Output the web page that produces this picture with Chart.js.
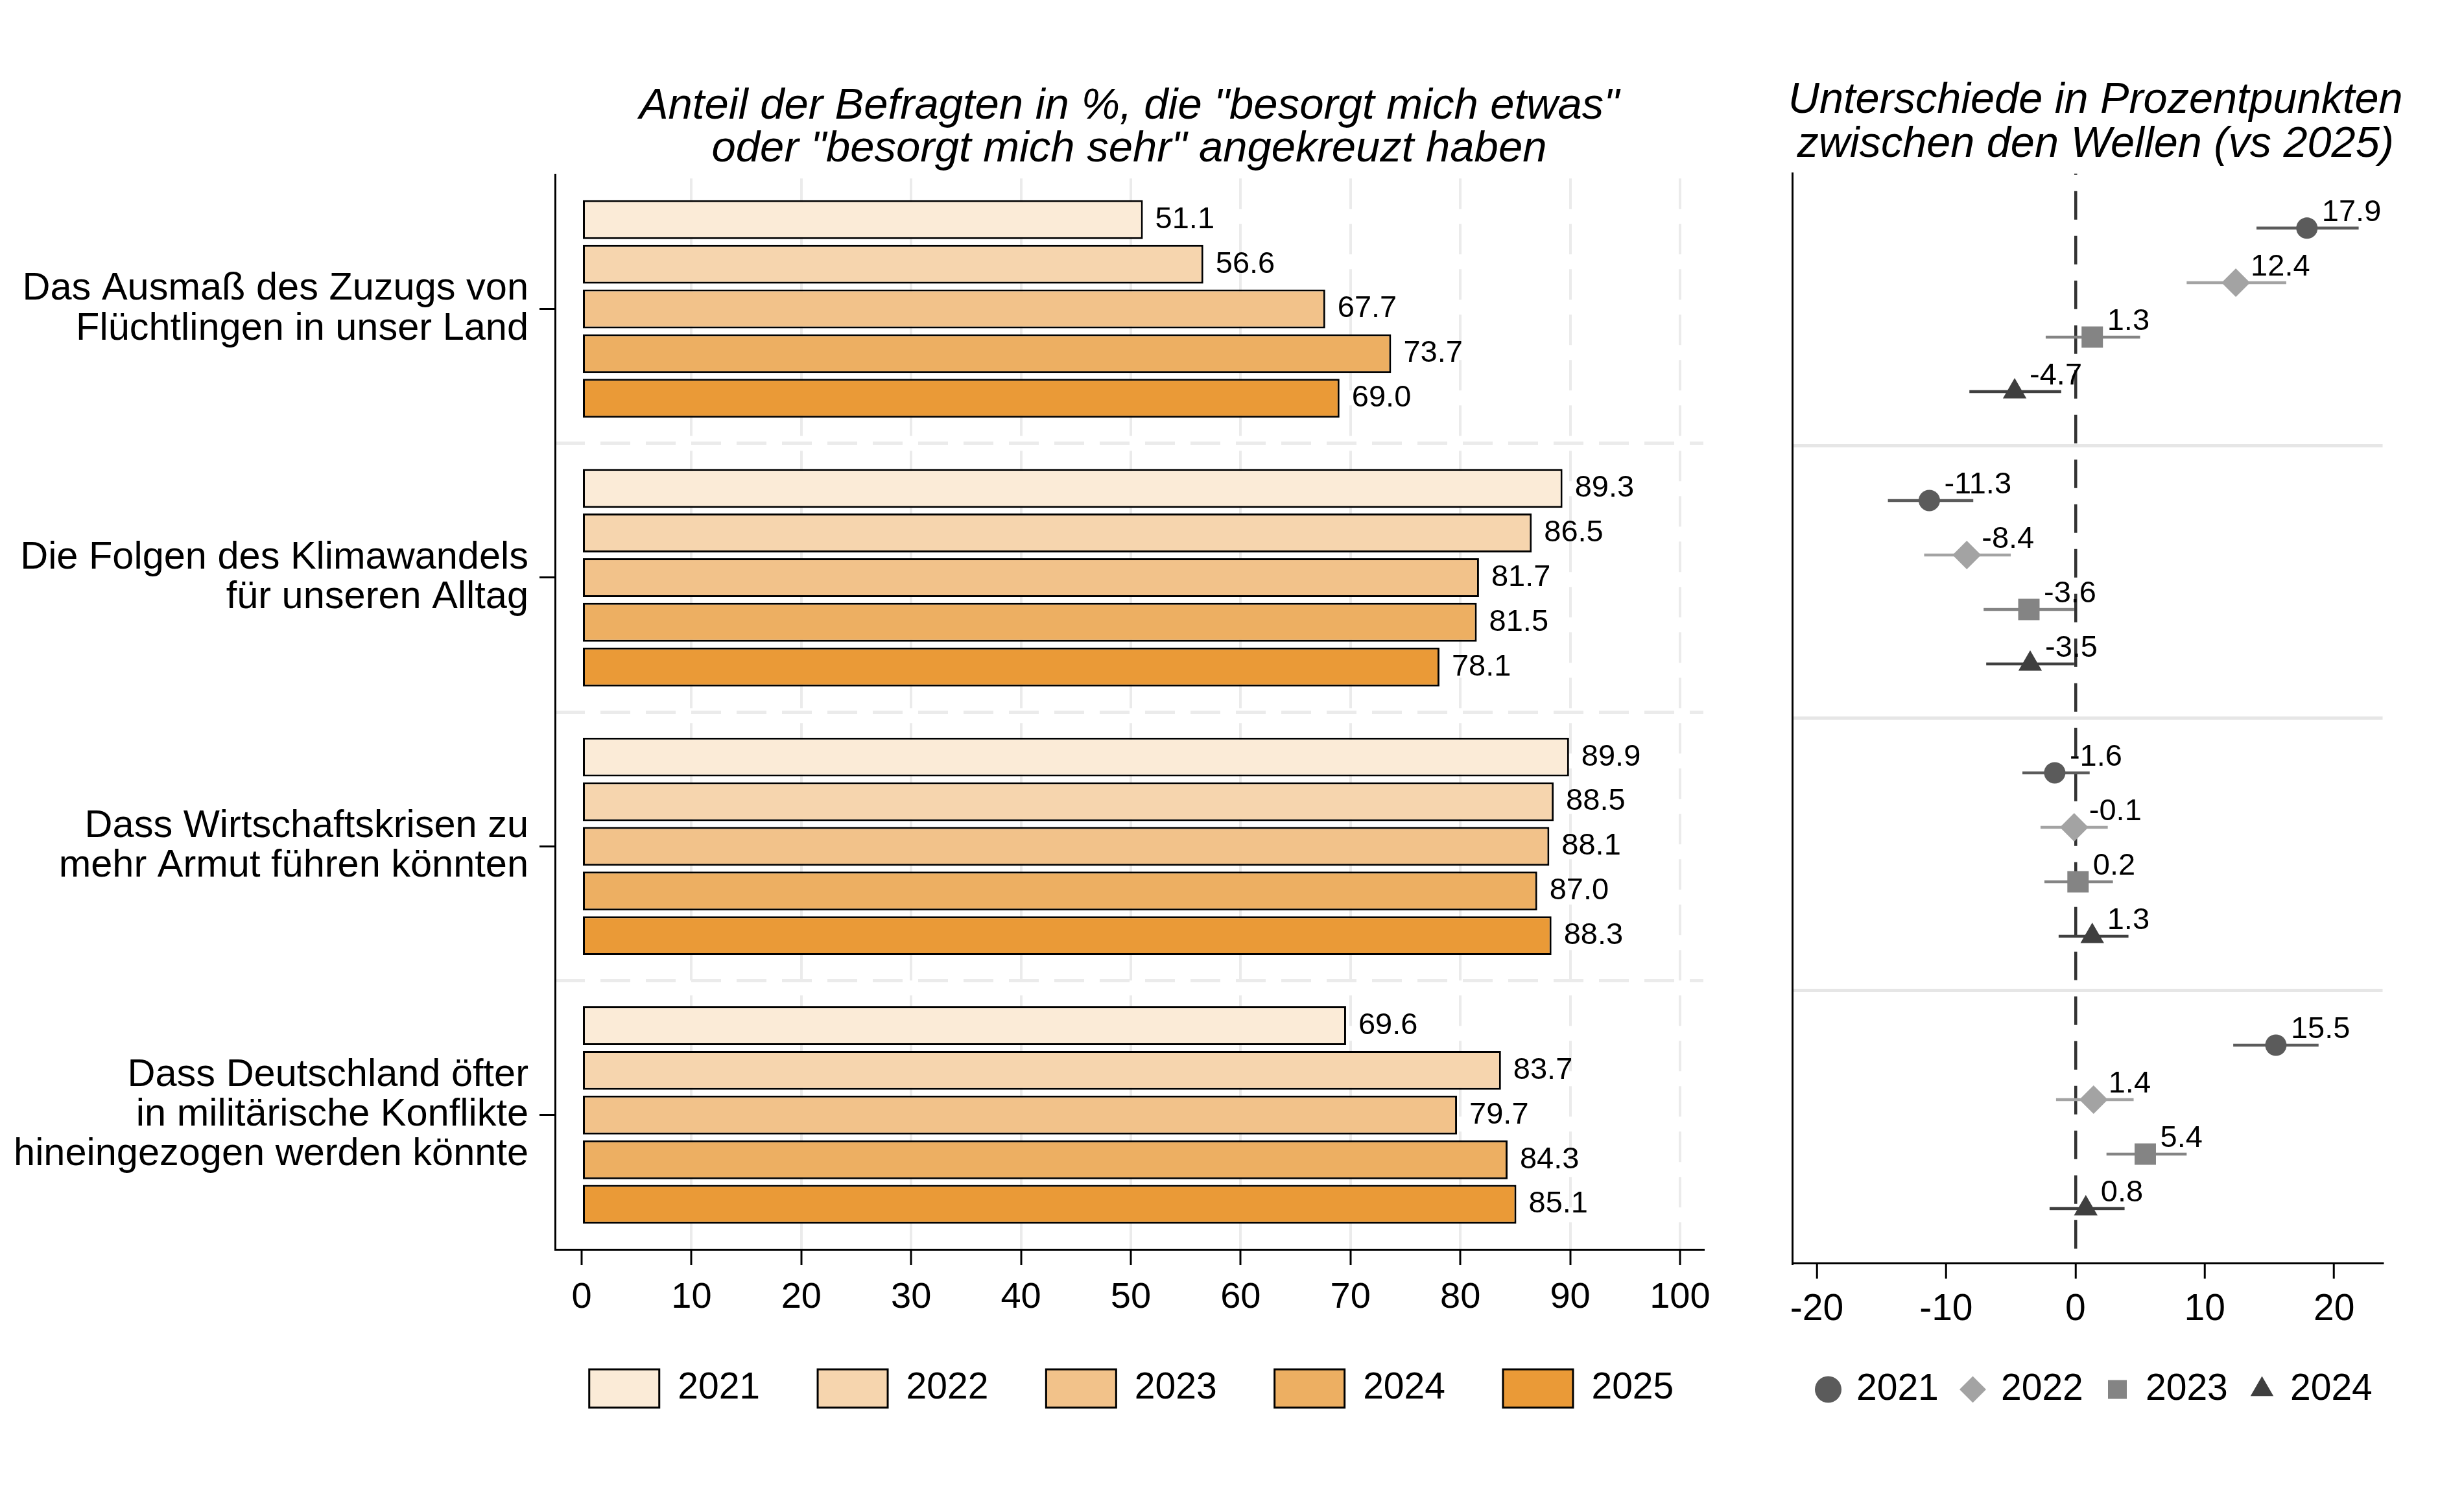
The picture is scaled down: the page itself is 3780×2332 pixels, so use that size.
<!DOCTYPE html>
<html>
<head>
<meta charset="utf-8">
<script src="https://cdn.jsdelivr.net/npm/chart.js@4.4.1/dist/chart.umd.min.js"></script>
<style>
  html, body { margin: 0; padding: 0; background: #fff; }
  #wrap { position: relative; width: 3780px; height: 2332px; overflow: hidden; }
  #left { position: absolute; left: 0; top: 0; }
  #right { position: absolute; left: 2700px; top: 0; }
</style>
</head>
<body>
<div id="wrap">
  <canvas id="left" width="3490" height="2332"></canvas>
  <canvas id="right" width="1080" height="2332"></canvas>
</div>
<script>
// categories (multi-line labels)
const categories = [
  ['Das Ausmaß des Zuzugs von', 'Flüchtlingen in unser Land'],
  ['Die Folgen des Klimawandels', 'für unseren Alltag'],
  ['Dass Wirtschaftskrisen zu', 'mehr Armut führen könnten'],
  ['Dass Deutschland öfter', 'in militärische Konflikte', 'hineingezogen werden könnte']
];

// left panel: share in %
const years = ['2021', '2022', '2023', '2024', '2025'];
const share2021 = [51.1, 89.3, 89.9, 69.6];
const share2022 = [56.6, 86.5, 88.5, 83.7];
const share2023 = [67.7, 81.7, 88.1, 79.7];
const share2024 = [73.7, 81.5, 87.0, 84.3];
const share2025 = [69.0, 78.1, 88.3, 85.1];
const shareTicks = [0, 10, 20, 30, 40, 50, 60, 70, 80, 90, 100];

// right panel: difference vs 2025 in percentage points, with CI
const diffYears = ['2021', '2022', '2023', '2024'];
const diff2021 = [17.9, -11.3, -1.6, 15.5];
const diff2022 = [12.4, -8.4, -0.1, 1.4];
const diff2023 = [1.3, -3.6, 0.2, 5.4];
const diff2024 = [-4.7, -3.5, 1.3, 0.8];
const ciLow2021 = [14.0, -14.5, -4.1, 12.2];
const ciHigh2021 = [21.9, -7.9, 1.1, 18.8];
const ciLow2022 = [8.6, -11.7, -2.7, -1.5];
const ciHigh2022 = [16.3, -5.0, 2.5, 4.5];
const ciLow2023 = [-2.3, -7.1, -2.4, 2.4];
const ciHigh2023 = [5.0, -0.1, 2.9, 8.6];
const ciLow2024 = [-8.2, -6.9, -1.3, -2.0];
const ciHigh2024 = [-1.1, -0.1, 4.1, 3.8];
const diffTicks = [-20, -10, 0, 10, 20];

const FONT = '"Liberation Sans", Arial, Helvetica, sans-serif';
Chart.defaults.font.family = FONT;
Chart.defaults.color = '#000';

const barColors = ['#FBEBD7', '#F6D5AE', '#F2C28A', '#EDAF62', '#EA9A37'];
const shares = [share2021, share2022, share2023, share2024, share2025];

const barValueLabels = {
  id: 'barValueLabels',
  afterDatasetsDraw(chart) {
    const ctx = chart.ctx;
    ctx.save();
    ctx.font = '47px ' + FONT;
    ctx.fillStyle = '#000';
    ctx.textAlign = 'left';
    ctx.textBaseline = 'middle';
    chart.data.datasets.forEach((ds, i) => {
      chart.getDatasetMeta(i).data.forEach((bar, j) => {
        ctx.fillText(ds.data[j].toFixed(1), bar.x + 19, bar.y);
      });
    });
    ctx.restore();
  }
};

// the canvas is wider than the plot so that the full-width legend is centred under the bars;
// the invisible right axis (ySep) takes up that extra room and draws the group separators
new Chart(document.getElementById('left'), {
  type: 'bar',
  data: {
    labels: categories,
    datasets: shares.map((d, i) => ({
      label: years[i],
      data: d,
      backgroundColor: barColors[i],
      borderColor: '#000',
      borderWidth: 3,
      borderSkipped: false,
      categoryPercentage: 0.831,
      barPercentage: 0.87
    }))
  },
  options: {
    indexAxis: 'y',
    responsive: false,
    animation: false,
    layout: { padding: { left: 0, right: 0, top: 0, bottom: 151 } },
    scales: {
      x: {
        type: 'linear',
        min: -2.42,
        max: 102.13,
        afterBuildTicks: s => { s.ticks = shareTicks.map(v => ({ value: v })); },
        afterFit: s => { s.height = 96; },
        border: { color: '#000', width: 3, dash: [47, 23], dashOffset: 64 },
        grid: {
          color: c => (c.tick && c.tick.value === 0) ? 'rgba(0,0,0,0)' : '#ebebeb',
          lineWidth: 4,
          tickColor: '#000',
          tickWidth: 3,
          tickLength: 24
        },
        ticks: { font: { size: 56 }, color: '#000', padding: 17, maxRotation: 0, autoSkip: false }
      },
      y: {
        afterFit: s => { s.width = 856; },
        border: { color: '#000', width: 3 },
        grid: { offset: false, drawOnChartArea: false, tickColor: '#000', tickWidth: 3, tickLength: 24 },
        ticks: { font: { size: 59.5, lineHeight: 1.03 }, color: '#000', padding: 17, autoSkip: false }
      },
      ySep: {
        type: 'category',
        labels: categories,
        position: 'right',
        offset: true,
        afterFit: s => { s.width = 863; },
        border: { display: false, dash: [46, 24] },
        ticks: { display: false },
        grid: {
          offset: true,
          drawTicks: false,
          color: c => (c.index >= 1 && c.index <= 3) ? '#ebebeb' : 'rgba(0,0,0,0)',
          lineWidth: 5
        }
      }
    },
    plugins: {
      title: {
        display: true,
        fullSize: false,
        text: ['Anteil der Befragten in %, die "besorgt mich etwas"', 'oder "besorgt mich sehr" angekreuzt haben'],
        font: { size: 67, style: 'italic', weight: 'normal', lineHeight: 0.98 },
        color: '#000',
        padding: { top: 132, bottom: 6 }
      },
      legend: {
        position: 'bottom',
        fullSize: true,
        labels: { boxWidth: 108, boxHeight: 59, padding: 89, font: { size: 57 }, color: '#000' }
      },
      tooltip: { enabled: false }
    }
  },
  plugins: [barValueLabels]
});

// right panel
const diffs = [diff2021, diff2022, diff2023, diff2024];
const ciLow = [ciLow2021, ciLow2022, ciLow2023, ciLow2024];
const ciHigh = [ciHigh2021, ciHigh2022, ciHigh2023, ciHigh2024];
const markerColors = ['#5b5b5b', '#a3a3a3', '#848484', '#3f3f3f'];
const markerStyles = ['circle', 'rectRot', 'rect', 'triangle'];
const markerRadius = [16.5, 22, 23.3, 21];

// row position: each category band holds 5 slots, the 4 waves sit on slots 1..4
const rowPos = (cat, s) => cat * 5 + s + 1;

const pointSets = diffs.map((d, s) => ({
  label: diffYears[s],
  data: d.map((v, i) => ({ x: v, y: rowPos(i, s) })),
  pointStyle: markerStyles[s],
  pointRadius: markerRadius[s],
  pointBackgroundColor: markerColors[s],
  pointBorderColor: markerColors[s],
  pointBorderWidth: 0,
  showLine: false,
  order: 0
}));

const ciSets = diffs.map((d, s) => ({
  label: 'ci' + diffYears[s],
  data: d.flatMap((v, i) => [
    { x: ciLow[s][i], y: rowPos(i, s) },
    { x: ciHigh[s][i], y: rowPos(i, s) },
    { x: NaN, y: NaN }
  ]),
  showLine: true,
  borderColor: markerColors[s],
  borderWidth: 4.5,
  pointRadius: 0,
  spanGaps: false,
  order: 1
}));

const diffValueLabels = {
  id: 'diffValueLabels',
  afterDatasetsDraw(chart) {
    const ctx = chart.ctx;
    ctx.save();
    ctx.font = '47px ' + FONT;
    ctx.fillStyle = '#000';
    ctx.textAlign = 'left';
    ctx.textBaseline = 'alphabetic';
    for (let s = 0; s < diffs.length; s++) {
      chart.getDatasetMeta(s).data.forEach((pt, j) => {
        ctx.fillText(diffs[s][j].toFixed(1), pt.x + 23, pt.y - 11);
      });
    }
    ctx.restore();
  }
};

new Chart(document.getElementById('right'), {
  type: 'scatter',
  data: { datasets: [...pointSets, ...ciSets] },
  options: {
    responsive: false,
    animation: false,
    layout: { padding: { left: 0, right: 16.7, top: 0, bottom: 150.5 } },
    scales: {
      x: {
        type: 'linear',
        min: -21.9,
        max: 23.75,
        afterBuildTicks: s => { s.ticks = diffTicks.map(v => ({ value: v })); },
        afterFit: s => { s.height = 128.8; },
        border: { color: '#000', width: 3, dash: [44, 25], dashOffset: 42 },
        grid: {
          color: c => (c.tick && c.tick.value === 0) ? '#333333' : 'rgba(0,0,0,0)',
          lineWidth: 4.5,
          tickColor: '#000',
          tickWidth: 3,
          tickLength: 24
        },
        ticks: { font: { size: 57 }, color: '#000', padding: 14, maxRotation: 0, autoSkip: false }
      },
      y: {
        type: 'linear',
        min: 0,
        max: 20,
        reverse: true,
        afterBuildTicks: s => { s.ticks = [0, 5, 10, 15, 20].map(v => ({ value: v })); },
        afterFit: s => { s.width = 64; },
        border: { color: '#000', width: 3 },
        grid: {
          color: c => (c.tick && c.tick.value > 0 && c.tick.value < 20) ? '#e6e6e6' : 'rgba(0,0,0,0)',
          lineWidth: 5,
          drawTicks: false
        },
        ticks: { display: false }
      },
      yPad: {
        type: 'linear',
        position: 'right',
        afterFit: s => { s.width = 88.8; },
        border: { display: false },
        grid: { display: false },
        ticks: { display: false }
      }
    },
    plugins: {
      title: {
        display: true,
        fullSize: true,
        text: ['Unterschiede in Prozentpunkten', 'zwischen den Wellen (vs 2025)'],
        font: { size: 66.6, style: 'italic', weight: 'normal', lineHeight: 1.02 },
        color: '#000',
        padding: { top: 122, bottom: 10 }
      },
      legend: {
        position: 'bottom',
        fullSize: true,
        labels: {
          usePointStyle: true,
          boxWidth: 30,
          boxHeight: 29,
          padding: 37.7,
          font: { size: 57 },
          color: '#000',
          filter: item => item.datasetIndex < 4
        }
      },
      tooltip: { enabled: false }
    }
  },
  plugins: [diffValueLabels]
});
</script>
</body>
</html>
